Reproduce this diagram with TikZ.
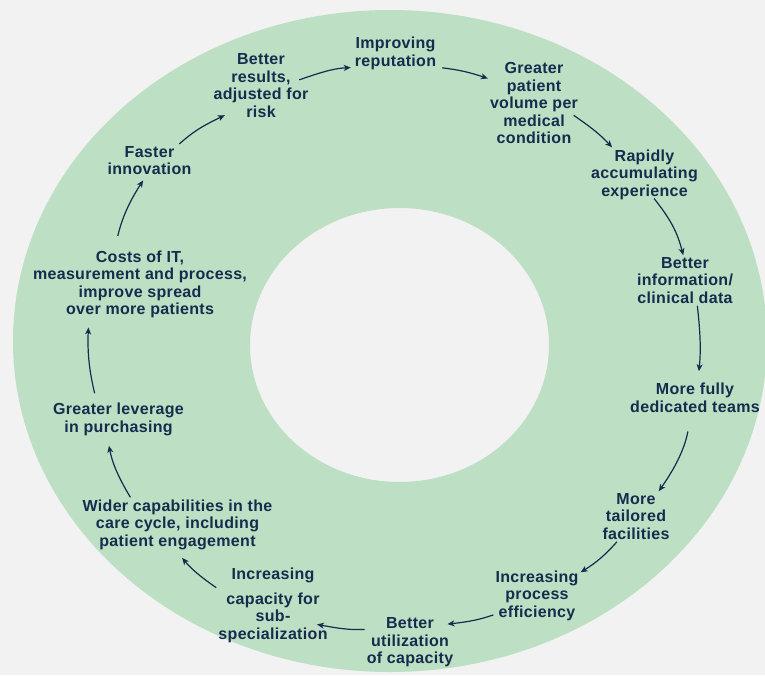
\documentclass[tikz,border=0pt]{standalone}
\usepackage{fontspec}
\newfontfamily\ringfont{Liberation Sans}[LetterSpace=2.0]
\usepackage{tikz}
\usetikzlibrary{positioning,calc,arrows.meta}
\definecolor{ringgreen}{HTML}{BDDFC4}
\definecolor{paper}{HTML}{F2F2F2}
\definecolor{cyclenavy}{HTML}{172B4D}
\tikzset{
    every node/.style={font=\ringfont\bfseries\fontsize{16}{17.5}\selectfont},
    stage/.style={text=cyclenavy, align=center, inner sep=2pt},
    arrow/.style={-{Stealth[length=7pt,width=6pt,inset=2pt]}, line width=1.2pt, draw=cyclenavy},
}

\begin{document}
\begin{tikzpicture}[x=1pt, y=-1pt]
% page and ring
\useasboundingbox (0,0) rectangle (765,675);
\fill[paper] (0,0) rectangle (765,675);
\fill[ringgreen, even odd rule] (390,341) ellipse [x radius=377pt, y radius=331pt]
    (399.5,345) ellipse [x radius=149.5pt, y radius=137pt];
% stages, clockwise from the top left
\node[stage] (results) at (261,85.5) {Better\\results,\\adjusted for\\risk};
\node[stage] (reputation) at (395.5,53.5) {Improving\\reputation};
\node[stage] (volume) at (534,103) {Greater\\patient\\volume per\\medical\\condition};
\node[stage] (experience) at (644.5,174.5) {Rapidly\\accumulating\\experience};
\node[stage] (information) at (685,280.5) {Better\\information/\\clinical data};
\node[stage] (teams) at (695,398) {More fully\\dedicated teams};
\node[stage] (facilities) at (636,516.5) {More\\tailored\\facilities};
\node[stage] (efficiency) at (537,595.5) {Increasing\\process\\efficiency};
\node[stage] (utilization) at (410,642.5) {Better\\utilization\\of capacity};
\node[stage] (capacity) at (273,605) {Increasing\\[7.5pt]capacity for\\sub-\\specialization};
\node[stage] (capabilities) at (177.5,524.5) {Wider capabilities in the\\care cycle, including\\patient engagement};
\node[stage] (leverage) at (118.5,419.5) {Greater leverage\\in purchasing};
\node[stage] (costs) at (140,284.5) {Costs of IT,\\measurement and process,\\improve spread\\over more patients};
\node[stage] (innovation) at (149.5,160.5) {Faster\\innovation};
% the cycle
\draw[arrow, shorten >=-10pt] (innovation.29) to[bend left=8] (results.217);
\draw[arrow, shorten <=-12pt, shorten >=2pt] (results.11) to[bend left=8] (reputation.198);
\draw[arrow, shorten <=4pt] (reputation.-18) to[bend left=6] (volume.152);
\draw[arrow, shorten <=-8pt] (volume.-20) to[bend left=6] (experience.140);
\draw[arrow, shorten <=-4pt] (experience.-66) to[bend left=12] (information.94);
\draw[arrow, shorten >=10pt] (information.-64) to[bend left=6] (teams.80);
\draw[arrow, shorten <=17pt] (teams.257) to[bend left=12] (facilities.48);
\draw[arrow] (facilities.233) to[bend left=8] (efficiency.28);
\draw[arrow, shorten >=-8pt] (efficiency.204) to[bend left=6] (utilization.23);
\draw[arrow, shorten >=-13pt] (utilization.164) to[bend left=6] (capacity.-21);
\draw[arrow, shorten >=8pt] (capacity.163) to[bend left=8] (capabilities.269);
\draw[arrow, shorten >=8pt] (capabilities.150) to[bend left=10] (leverage.239);
\draw[arrow, shorten <=8pt, shorten >=7pt] (leverage.140) to[bend left=8] (costs.215);
\draw[arrow, shorten <=13pt, shorten >=4pt] (costs.125) to[bend left=10] (innovation.256);
\end{tikzpicture}
\end{document}
